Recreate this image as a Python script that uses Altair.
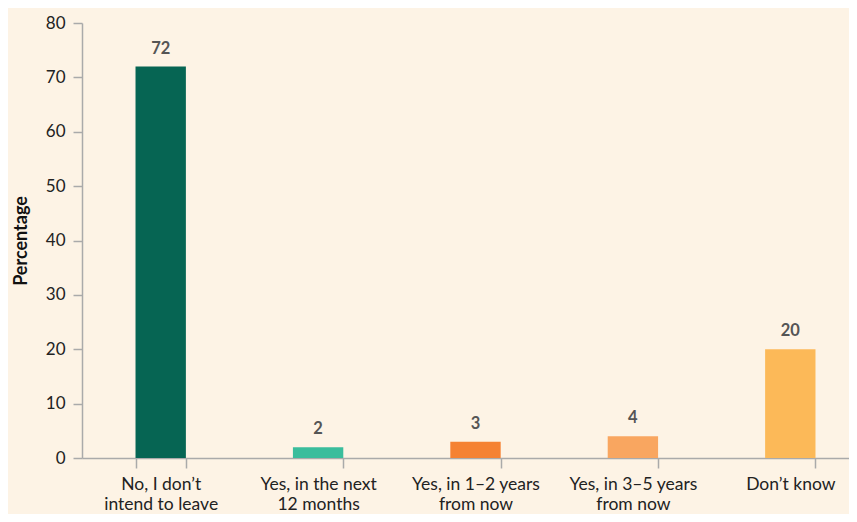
import altair as alt
import pandas as pd

categories = [
    "No, I don’t\nintend to leave",
    "Yes, in the next\n12 months",
    "Yes, in 1–2 years\nfrom now",
    "Yes, in 3–5 years\nfrom now",
    "Don’t know",
]
values = [72, 2, 3, 4, 20]
colors = ["#066553", "#3abd9c", "#f58233", "#f9a660", "#fcb958"]
y_ticks = [0, 10, 20, 30, 40, 50, 60, 70, 80]

df = pd.DataFrame({"category": categories, "value": values})

FONT = "Lato"

x_enc = alt.X(
    "category:N",
    sort=categories,
    title=None,
    scale=alt.Scale(range=[0, 787], paddingInner=0.68, paddingOuter=0.34),
    axis=alt.Axis(
        labelExpr="split(datum.label, '\\n')",
        labelAngle=0,
        labelFontSize=17.5,
        labelColor="#222222",
        labelFont=FONT,
        labelLineHeight=20,
        labelPadding=7,
        tickColor="#aaaaaa",
        domainColor="#aaaaaa",
        tickSize=10,
        tickWidth=1.5,
        domainWidth=1.5,
        tickBand="extent",
        labelBound=False,
        labelOverlap=False,
    ),
)

bars = alt.Chart(df).mark_bar().encode(
    x=x_enc,
    y=alt.Y(
        "value:Q",
        title="Percentage",
        scale=alt.Scale(domain=[0, 80], nice=False),
        axis=alt.Axis(
            values=y_ticks,
            grid=False,
            labelFontSize=17,
            labelColor="#222222",
            labelFont=FONT,
            labelPadding=8,
            tickColor="#aaaaaa",
            domainColor="#aaaaaa",
            tickSize=9,
            tickWidth=1.5,
            domainWidth=1.5,
            titleFont=FONT,
            titleFontSize=18,
            titleFontWeight="bold",
            titleColor="#111111",
            titlePadding=15,
        ),
    ),
    color=alt.Color("category:N", sort=categories, scale=alt.Scale(domain=categories, range=colors), legend=None),
)

text = alt.Chart(df).mark_text(
    dy=-18, font=FONT, fontSize=16.5, fontWeight="bold", color="#555555"
).encode(
    x=alt.X("category:N", sort=categories),
    y="value:Q",
    text="value:Q",
)

chart = (
    alt.layer(bars, text)
    .properties(
        width=767,
        height=435,
        background="#fdf3e5",
        padding={"left": 74, "top": 15, "right": 0, "bottom": 56},
        autosize=alt.AutoSizeParams(type="none"),
    )
    .configure_view(stroke=None)
)

chart.save("out.html", embed_options={"renderer": "svg", "actions": False})
